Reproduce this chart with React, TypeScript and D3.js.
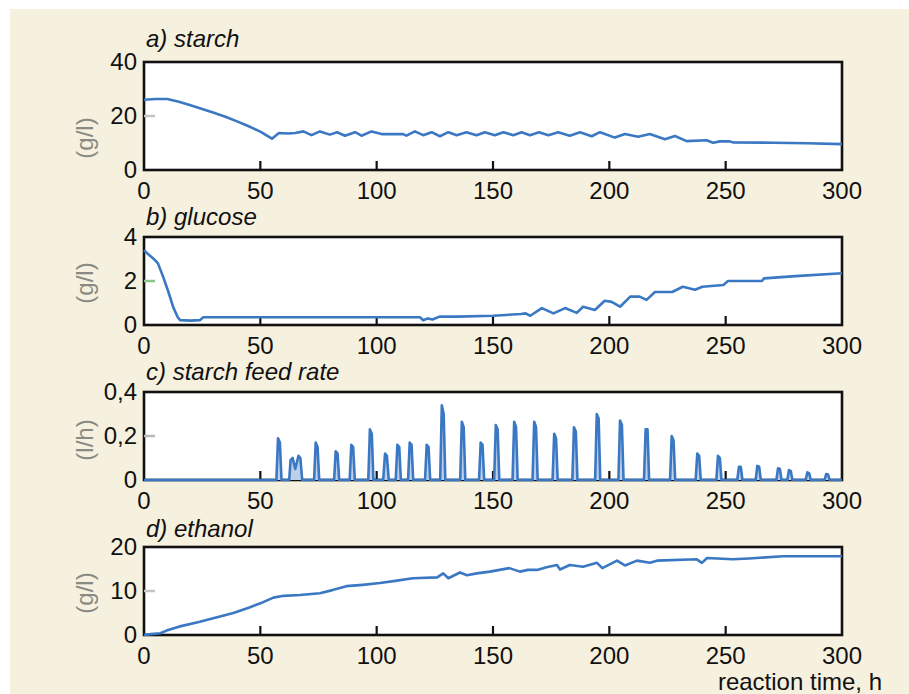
import React, { useEffect, useRef } from "react";
import * as d3 from "d3";

// time axis (reaction time, h)
const timeTicks = [0, 50, 100, 150, 200, 250, 300];

// a) starch, g/l
const starch: [number, number][] = [
  [0, 26.0], [5, 26.3], [10, 26.3], [15, 25.3], [20, 24.0], [25, 22.6], [30, 21.2],
  [35, 19.7], [40, 18.0], [45, 16.2], [50, 14.2], [55, 11.6], [58, 13.7], [62, 13.5],
  [65, 13.7], [68.5, 14.3], [72, 12.9], [75.6, 14.3], [79.9, 13.1], [83, 14.0],
  [86.4, 12.7], [90.7, 14.0], [93.5, 12.7], [97.8, 14.3], [102.1, 13.3], [111.4, 13.3],
  [112.8, 12.7], [116.4, 14.3], [120, 12.9], [123.6, 14.0], [127.2, 12.5], [130.8, 14.0],
  [134.4, 12.9], [138.6, 14.0], [142.9, 12.9], [146.5, 14.0], [150.8, 12.9], [154.4, 14.0],
  [158.7, 12.9], [162.3, 14.0], [165.9, 12.9], [169.8, 14.0], [173.8, 12.9], [178, 14.0],
  [183, 12.7], [187.4, 14.0], [192.4, 12.5], [196, 14.0], [202.4, 12.0], [206.7, 13.3],
  [212.4, 12.3], [217.4, 13.3], [223.9, 11.4], [228.2, 12.6], [233.2, 10.7], [241.8, 11.0],
  [244.6, 10.1], [247.5, 10.6], [251.8, 10.6], [253.3, 10.2], [270.5, 10.1], [285, 9.9],
  [300, 9.6],
];

// b) glucose, g/l
const glucose: [number, number][] = [
  [0, 3.4], [2, 3.2], [4.7, 2.95], [6, 2.8], [8.2, 2.2], [10.5, 1.5], [12.6, 0.8],
  [14.5, 0.35], [15.5, 0.22], [20, 0.2], [24, 0.22], [25.5, 0.35], [60, 0.35], [100, 0.35],
  [118.6, 0.35], [120, 0.22], [122, 0.3], [124, 0.25], [127, 0.38], [135, 0.38],
  [150, 0.42], [162, 0.5], [164, 0.53], [166, 0.42], [171, 0.77], [176, 0.53], [181, 0.77],
  [186, 0.55], [188.7, 0.83], [193.8, 0.68], [198, 1.1], [201, 1.05], [204.6, 0.83],
  [209, 1.29], [213, 1.29], [216, 1.14], [219.6, 1.5], [227, 1.5], [231.6, 1.74],
  [236.8, 1.6], [240, 1.74], [249, 1.82], [251, 2.0], [265.6, 2.0], [266.5, 2.12],
  [280, 2.22], [300, 2.35],
];

// c) starch feed rate, l/h
const feedRate: [number, number][] = [
  [0, 0], [56.9, 0], [57.6, 0.19], [58.4, 0.17], [59.1, 0],
  [62.4, 0], [63.0, 0.09], [63.9, 0.1], [65.0, 0.05], [66.4, 0.11], [67.2, 0.1], [68.0, 0],
  [73.1, 0], [73.8, 0.17], [74.6, 0.15], [75.3, 0],
  [81.7, 0], [82.4, 0.13], [83.2, 0.12], [83.9, 0],
  [88.4, 0], [89.1, 0.16], [89.9, 0.15], [90.6, 0],
  [96.4, 0], [97.1, 0.23], [97.9, 0.21], [98.6, 0],
  [102.8, 0], [103.6, 0.12], [104.4, 0.11], [105.2, 0],
  [108.2, 0], [108.9, 0.16], [109.7, 0.15], [110.4, 0],
  [113.5, 0], [114.2, 0.17], [115.0, 0.16], [115.7, 0],
  [120.8, 0], [121.5, 0.16], [122.3, 0.15], [123.0, 0],
  [127.3, 0], [128.0, 0.34], [128.8, 0.3], [129.5, 0],
  [135.9, 0], [136.6, 0.265], [137.4, 0.24], [138.1, 0],
  [144.0, 0], [144.7, 0.17], [145.5, 0.16], [146.2, 0],
  [150.5, 0], [151.2, 0.25], [152.0, 0.23], [152.7, 0],
  [158.4, 0], [159.1, 0.265], [159.9, 0.24], [160.6, 0],
  [167.0, 0], [167.7, 0.265], [168.5, 0.24], [169.2, 0],
  [175.6, 0], [176.3, 0.21], [177.1, 0.19], [177.8, 0],
  [184.1, 0], [184.8, 0.24], [185.6, 0.22], [186.3, 0],
  [193.9, 0], [194.6, 0.3], [195.4, 0.28], [196.1, 0],
  [203.9, 0], [204.6, 0.27], [205.4, 0.25], [206.1, 0],
  [214.9, 0], [215.6, 0.23], [216.4, 0.23], [217.1, 0],
  [226.1, 0], [226.8, 0.2], [227.6, 0.18], [228.3, 0],
  [237.1, 0], [237.8, 0.12], [238.6, 0.11], [239.3, 0],
  [246.0, 0], [246.7, 0.11], [247.5, 0.1], [248.2, 0],
  [255.0, 0], [255.7, 0.06], [256.5, 0.06], [257.2, 0],
  [262.9, 0], [263.6, 0.064], [264.4, 0.06], [265.1, 0],
  [271.8, 0], [272.5, 0.053], [273.3, 0.05], [274.0, 0],
  [276.5, 0], [277.2, 0.045], [278.0, 0.04], [278.7, 0],
  [284.4, 0], [285.1, 0.035], [285.9, 0.03], [286.6, 0],
  [292.5, 0], [293.2, 0.027], [294.0, 0.025], [294.7, 0],
  [300, 0],
];

// d) ethanol, g/l
const ethanol: [number, number][] = [
  [0, 0], [3, 0.2], [7, 0.4], [9.7, 1.0], [15, 1.9], [24, 3.0], [31, 4.0], [38.4, 5.0],
  [45, 6.2], [50, 7.2], [55.6, 8.5], [60, 8.9], [67, 9.1], [75.6, 9.5], [81, 10.2],
  [87, 11.1], [94, 11.4], [101.4, 11.8], [108, 12.3], [115.6, 12.9], [126, 13.1],
  [128.6, 14.0], [130.8, 12.9], [135.8, 14.2], [138.8, 13.6], [143, 14.0], [148.7, 14.4],
  [157, 15.2], [161.6, 14.4], [165, 14.8], [169, 14.8], [173, 15.4], [177.5, 15.9],
  [178.8, 14.9], [183, 15.9], [188.7, 15.5], [194.7, 16.4], [197, 15.2], [203.3, 16.9],
  [206.7, 15.8], [211.9, 16.9], [217.4, 16.4], [220.5, 16.9], [237.6, 17.2], [239.8, 16.4],
  [242, 17.5], [253, 17.2], [260, 17.4], [274.6, 17.9], [300, 17.9],
];

const titles = ["a) starch", "b) glucose", "c) starch feed rate", "d) ethanol"];
const units = ["(g/l)", "(g/l)", "(l/h)", "(g/l)"];
const yMaxes = [40, 4, 0.4, 20];
const yTicks = [[0, 20, 40], [0, 2, 4], [0, 0.2, 0.4], [0, 10, 20]];
const yTickLabels = [["0", "20", "40"], ["0", "2", "4"], ["0", "0,2", "0,4"], ["0", "10", "20"]];
const series = [starch, glucose, feedRate, ethanol];

// layout (pixels)
const panelTops = [62, 237, 392, 547];
const panelHs = [108, 88, 88, 88];
const titleY = [47, 225, 380, 537];
const unitY = [138, 283, 440, 593];
const midTickColor = ["#c4c4c4", "#8cc48c", "#b8b8b8", "#c4c4c4"];

const X0 = 144;
const X1 = 842;
const FONT = "'Liberation Sans', Arial, sans-serif";
const LINE = "#3a78c3";

const App = () => {
  const svgRef = useRef(null);

  useEffect(() => {
    const svg = d3.select(svgRef.current);
    svg.selectAll("*").remove();

    svg.append("rect").attr("x", 0).attr("y", 0).attr("width", 909).attr("height", 694).attr("fill", "#fff");
    svg.append("rect").attr("x", 10).attr("y", 9).attr("width", 899).attr("height", 685).attr("fill", "#f6f0de");

    const x = d3.scaleLinear().domain([0, 300]).range([X0, X1]);

    series.forEach((data, i) => {
      const top = panelTops[i];
      const bottom = top + panelHs[i];
      const y = d3.scaleLinear().domain([0, yMaxes[i]]).range([bottom, top]);
      const g = svg.append("g");

      // plot area
      g.append("rect")
        .attr("x", X0).attr("y", top)
        .attr("width", X1 - X0).attr("height", bottom - top)
        .attr("fill", "#fff").attr("stroke", "#111").attr("stroke-width", 2.6);

      // x ticks (inward)
      g.selectAll(".xt").data(timeTicks.slice(1, -1)).enter().append("line")
        .attr("x1", (d) => x(d)).attr("x2", (d) => x(d))
        .attr("y1", bottom).attr("y2", bottom - 9)
        .attr("stroke", "#111").attr("stroke-width", 2.2);

      // faint middle y tick
      g.append("line")
        .attr("x1", X0).attr("x2", X0 + 11)
        .attr("y1", y(yTicks[i][1])).attr("y2", y(yTicks[i][1]))
        .attr("stroke", midTickColor[i]).attr("stroke-width", 2.5);

      // x tick labels
      g.selectAll(".xl").data(timeTicks).enter().append("text")
        .attr("x", (d) => x(d)).attr("y", bottom + 29)
        .attr("text-anchor", "middle")
        .attr("font-family", FONT).attr("font-size", 24).attr("fill", "#111")
        .text((d) => d);

      // y tick labels
      g.selectAll(".yl").data(yTicks[i]).enter().append("text")
        .attr("x", 137).attr("y", (d) => y(d) + 8)
        .attr("text-anchor", "end")
        .attr("font-family", FONT).attr("font-size", 24).attr("fill", "#111")
        .text((d, k) => yTickLabels[i][k]);

      // unit label
      g.append("text")
        .attr("transform", `translate(84,${unitY[i]}) rotate(-90)`)
        .attr("text-anchor", "middle").attr("dominant-baseline", "central")
        .attr("font-family", FONT).attr("font-size", 24).attr("fill", "#8a8a84")
        .text(units[i]);

      // panel title
      g.append("text")
        .attr("x", 146).attr("y", titleY[i])
        .attr("font-family", FONT).attr("font-size", 24).attr("font-style", "italic").attr("fill", "#111")
        .text(titles[i]);

      const line = d3.line<[number, number]>().x((d) => x(d[0])).y((d) => y(d[1]));

      if (i === 2) {
        const area = d3.area<[number, number]>().x((d) => x(d[0])).y0(bottom).y1((d) => y(d[1]));
        g.append("path").datum(data).attr("d", area).attr("fill", "#bcd0ea");
      }

      g.append("path").datum(data)
        .attr("d", line)
        .attr("fill", "none")
        .attr("stroke", LINE)
        .attr("stroke-width", 2.6)
        .attr("stroke-linejoin", "round");
    });

    // x axis title
    svg.append("text")
      .attr("x", 882).attr("y", 690)
      .attr("text-anchor", "end")
      .attr("font-family", FONT).attr("font-size", 24).attr("fill", "#111")
      .text("reaction time, h");
  }, []);

  return (
    <div style={{ position: "absolute", left: 0, top: 0 }}>
      <svg ref={svgRef} width={909} height={694} style={{ display: "block" }}></svg>
    </div>
  );
};

export default App;
